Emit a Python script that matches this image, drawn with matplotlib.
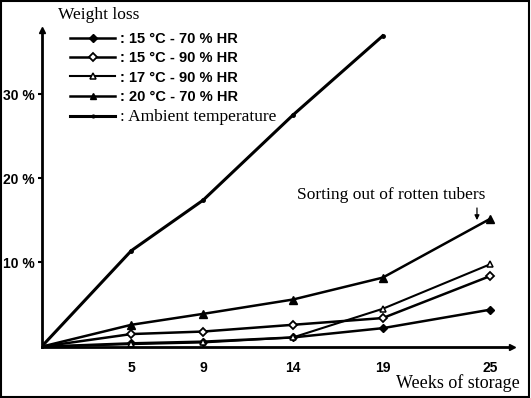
import matplotlib
matplotlib.use('Agg')
import matplotlib.pyplot as plt
from matplotlib.patches import Rectangle

# weeks of storage and weight loss (%)
weeks = [0, 5, 9, 14, 19, 25]
loss_15_70 = [0, 0.4, 0.6, 1.1, 2.2, 4.4]
loss_15_90 = [0, 1.5, 1.8, 2.6, 3.4, 8.4]
loss_17_90 = [0, 0.3, 0.5, 1.1, 4.5, 9.8]
loss_20_70 = [0, 2.6, 3.9, 5.6, 8.2, 15.2]
weeks_amb = [0, 5, 9, 14, 19]
loss_amb = [0, 11.4, 17.4, 27.5, 36.9]

labels = [': 15 °C - 70 % HR', ': 15 °C - 90 % HR', ': 17 °C - 90 % HR',
          ': 20 °C - 70 % HR', ': Ambient temperature']
yticks = [10, 20, 30]
ytick_labels = ['10 %', '20 %', '30 %']

sans = 'Liberation Sans'
serif = 'Liberation Serif'

fig = plt.figure(figsize=(5.31, 3.98), dpi=100)
ax = fig.add_axes([0.0782, 0.1289, 0.886, 0.7957])

ax.plot(weeks, loss_15_70, color='black', lw=1.8, marker='D', ms=4.5,
        mfc='black', mec='black', label=labels[0])
ax.plot(weeks, loss_15_90, color='black', lw=1.8, marker='D', ms=4.5,
        mfc='white', mec='black', mew=1.3, label=labels[1])
ax.plot(weeks, loss_17_90, color='black', lw=1.5, marker='^', ms=5,
        mfc='white', mec='black', mew=1.1, label=labels[2])
ax.plot(weeks, loss_20_70, color='black', lw=1.8, marker='^', ms=6,
        mfc='black', mec='black', label=labels[3])
ax.plot(weeks_amb, loss_amb, color='black', lw=2.2, marker='o', ms=2.5,
        mfc='black', mec='black', label=labels[4])

ax.set_xlim(0, 26.2)
ax.set_ylim(0, 37.6)
for s in ['top', 'right']:
    ax.spines[s].set_visible(False)
for s in ['left', 'bottom']:
    ax.spines[s].set_linewidth(2)

# arrow heads on the axes
ax.plot(1, 0, '>k', ms=5, transform=ax.transAxes, clip_on=False)
ax.plot(0, 1, '^k', ms=5, transform=ax.transAxes, clip_on=False)

ax.set_xticks(weeks[1:])
ax.set_xticklabels([str(w) for w in weeks[1:]], fontfamily=sans,
                   fontweight='bold', fontsize=10)
ax.tick_params(axis='x', length=0, pad=10)
ax.set_yticks(yticks)
ax.set_yticklabels(ytick_labels, fontfamily=sans, fontweight='bold', fontsize=10)
ax.tick_params(axis='y', length=3, width=1.5, pad=2)

fig.text(58 / 531, 1 - 15 / 398, 'Weight loss', fontfamily=serif,
         fontsize=12.5, ha='left', va='center')
fig.text(520 / 531, 1 - 383 / 398, 'Weeks of storage', fontfamily=serif,
         fontsize=13, ha='right', va='center')

ax.text(14.23, 18.0, 'Sorting out of rotten tubers', fontfamily=serif,
        fontsize=12.5, ha='left', va='center')
ax.annotate('', xy=(24.25, 14.7), xytext=(24.25, 16.8),
            arrowprops=dict(arrowstyle='-|>', color='black', lw=0.9,
                            mutation_scale=7))

leg = ax.legend(loc='upper left', bbox_to_anchor=(70 / 531, 1 - 32 / 398),
                bbox_transform=fig.transFigure, frameon=False,
                prop={'family': sans, 'weight': 'bold', 'size': 10.5},
                handlelength=3.1, handletextpad=0.35, labelspacing=0.36,
                borderpad=0, borderaxespad=0, markerscale=0.8)
leg.get_texts()[4].set_fontfamily(serif)
leg.get_texts()[4].set_fontweight('normal')
leg.get_texts()[4].set_fontsize(12.5)

fig.add_artist(Rectangle((0.002, 0.003), 0.994, 0.994, transform=fig.transFigure,
                         fill=False, edgecolor='black', lw=1.5))

fig.savefig('out.png', dpi=100)
